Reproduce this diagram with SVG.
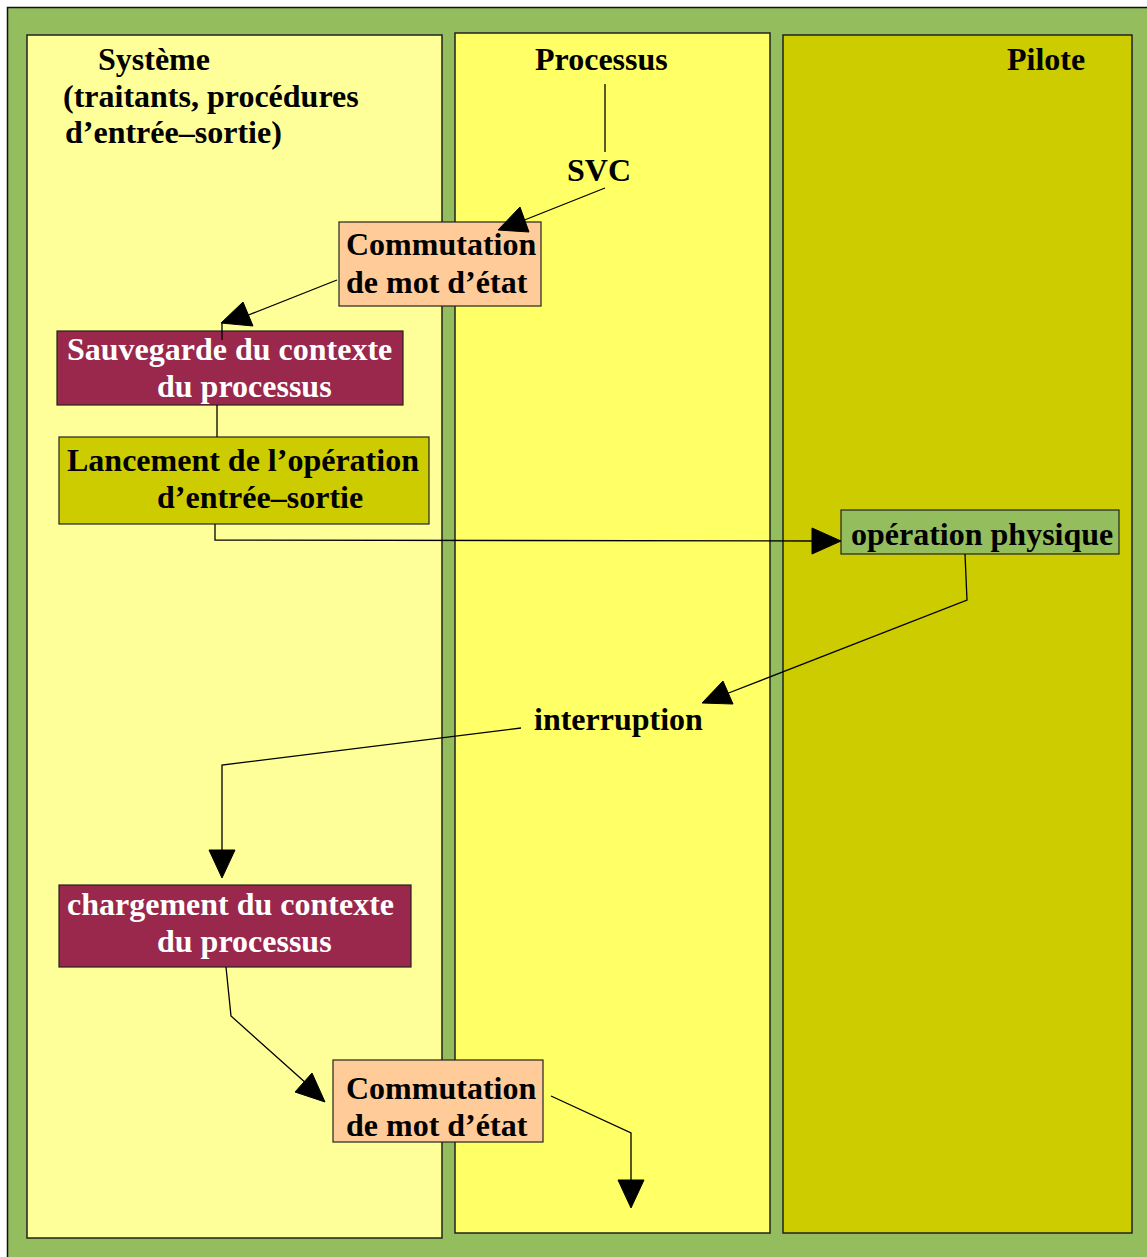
<svg xmlns="http://www.w3.org/2000/svg" width="1147" height="1257" viewBox="0 0 1147 1257">
  <style>
    text { font-family: "Liberation Serif", "Times New Roman", serif; font-weight: bold; font-size: 32px; fill: #000; }
    .light { fill: #fff; }
    .lane { stroke: #222; stroke-width: 1.5; }
    .box { stroke: #222; stroke-width: 1.2; }
    .wire { fill: none; stroke: #000; stroke-width: 1.3; }
    .head { fill: #000; stroke: #000; stroke-width: 1; stroke-linejoin: round; }
  </style>

  <!-- background -->
  <rect x="0" y="0" width="1147" height="1257" fill="#ffffff"/>
  <rect x="7.5" y="7.5" width="1150" height="1260" fill="#94bd5e" stroke="#111" stroke-width="1.5"/>

  <!-- swim lanes -->
  <g id="lane-systeme">
    <rect class="lane" x="27" y="35" width="415" height="1203" fill="#ffff99"/>
    <text x="98" y="70">Système</text>
    <text x="63" y="107">(traitants, procédures</text>
    <text x="65" y="143">d’entrée–sortie)</text>
  </g>
  <g id="lane-processus">
    <rect class="lane" x="455" y="33" width="315" height="1200" fill="#ffff66"/>
    <text x="535" y="70">Processus</text>
    <text x="567" y="181">SVC</text>
    <text x="534" y="730">interruption</text>
  </g>
  <g id="lane-pilote">
    <rect class="lane" x="783" y="35" width="349" height="1198" fill="#cccc00"/>
    <text x="1007" y="70">Pilote</text>
  </g>

  <!-- nodes -->
  <g id="commutation-1">
    <rect class="box" x="339" y="222" width="202" height="84" fill="#ffcc99"/>
    <text x="346" y="255">Commutation</text>
    <text x="346" y="293">de mot d’état</text>
  </g>
  <g id="sauvegarde">
    <rect class="box" x="57" y="331" width="346" height="74" fill="#99284c"/>
    <text class="light" x="67" y="360">Sauvegarde du contexte</text>
    <text class="light" x="157" y="397">du processus</text>
  </g>
  <g id="lancement">
    <rect class="box" x="59" y="437" width="370" height="87" fill="#cccc00"/>
    <text x="67" y="471">Lancement de l’opération</text>
    <text x="157" y="508">d’entrée–sortie</text>
  </g>
  <g id="operation-physique">
    <rect class="box" x="841" y="510" width="278" height="44" fill="#94bd5e"/>
    <text x="851" y="545">opération physique</text>
  </g>
  <g id="chargement">
    <rect class="box" x="59" y="885" width="352" height="82" fill="#99284c"/>
    <text class="light" x="67" y="915">chargement du contexte</text>
    <text class="light" x="157" y="952">du processus</text>
  </g>
  <g id="commutation-2">
    <rect class="box" x="333" y="1060" width="210" height="82" fill="#ffcc99"/>
    <text x="346" y="1099">Commutation</text>
    <text x="346" y="1136">de mot d’état</text>
  </g>

  <!-- connectors -->
  <g id="connectors">
    <line class="wire" x1="605" y1="84" x2="605" y2="152"/>
    <line class="wire" x1="605" y1="188" x2="522" y2="221"/>
    <polygon class="head" points="498,230 520,207 529,232"/>

    <line class="wire" x1="337" y1="280" x2="246" y2="316"/>
    <polygon class="head" points="221,323 243,302 253,326"/>
    <line class="wire" x1="222" y1="323" x2="222" y2="340"/>

    <line class="wire" x1="217" y1="405" x2="217" y2="437"/>

    <polyline class="wire" points="215,524 215,540 814,541"/>
    <polygon class="head" points="841,541 812,528 812,554"/>

    <polyline class="wire" points="965,554 967,600 726,694"/>
    <polygon class="head" points="702,703 723,681 733,704"/>

    <polyline class="wire" points="521,728 222,765 222,852"/>
    <polygon class="head" points="222,878 209,850 235,850"/>

    <polyline class="wire" points="226,967 231,1016 307,1084"/>
    <polygon class="head" points="325,1102 295,1092 312,1073"/>

    <polyline class="wire" points="551,1096 631,1133 631,1182"/>
    <polygon class="head" points="631,1208 618,1180 644,1180"/>
  </g>
</svg>
